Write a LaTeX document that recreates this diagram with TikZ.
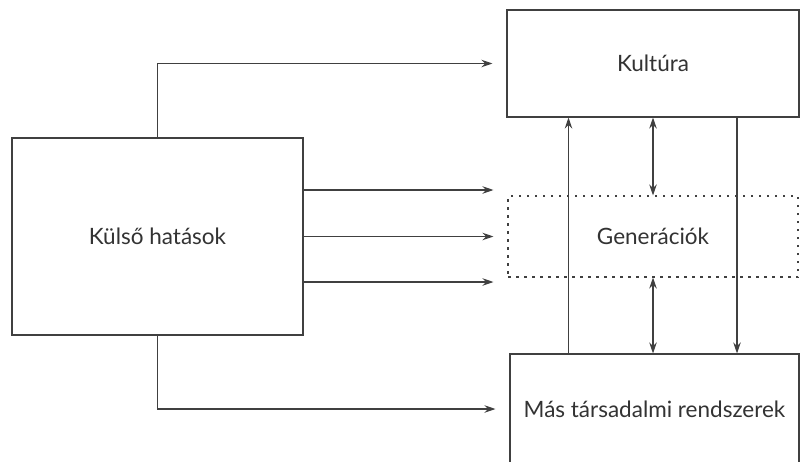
\documentclass[tikz,border=0pt]{standalone}
\usepackage{fontspec}
\setmainfont{Lato}
\usetikzlibrary{arrows.meta}

\begin{document}
\begin{tikzpicture}[x=1pt, y=-1pt,
    box/.style={draw=black!75, line width=1.1pt, inner sep=0pt, text=black!80,
        font=\fontsize{22.5}{27}\selectfont},
    dotbox/.style={box, dash pattern=on 2.5pt off 5.5pt},
    arr/.style={draw=black!75, line width=1.1pt, -{Stealth[length=11pt, width=7.5pt]}},
    arrs/.style={arr, {Stealth[length=11pt, width=7.5pt]}-{Stealth[length=11pt, width=7.5pt]}},
    feed/.style={arr, shorten >=14pt}]

    \useasboundingbox (0,0) rectangle (801,461);
    \clip (0,0) rectangle (801,461);
    \fill[white] (0,0) rectangle (801,461);

    % Boxes
    \node[box, minimum width=291pt, minimum height=197pt] (kulso) at (157.5,236.5) {Külső hatások};
    \node[box, minimum width=292pt, minimum height=107pt] (kultura) at (653,63.5) {Kultúra};
    \node[dotbox, minimum width=290pt, minimum height=81pt] (gen) at (653,236.5) {Generációk};
    \node[box, minimum width=289pt, minimum height=110pt] (mas) at (654.5,409) {Más társadalmi rendszerek};

    % Külső hatások -> Kultúra, Más társadalmi rendszerek
    \draw[feed] (kulso.north) |- (kultura.west);
    \draw[feed] (kulso.south) |- (mas.west);

    % Külső hatások -> Generációk
    \foreach \dy in {-45.5,0,46.5}
        \draw[feed] ([yshift=\dy]kulso.east) -- ([yshift=\dy]kulso.east -| gen.west);

    % Between Kultúra, Generációk and Más társadalmi rendszerek
    \draw[arr] ([xshift=-86pt]mas.north) -- ([xshift=-86pt]mas.north |- kultura.south);
    \draw[arrs] (kultura.south) -- (gen.north);
    \draw[arrs] (gen.south) -- (gen.south |- mas.north);
    \draw[arr] ([xshift=84pt]kultura.south) -- ([xshift=84pt]kultura.south |- mas.north);

\end{tikzpicture}
\end{document}
